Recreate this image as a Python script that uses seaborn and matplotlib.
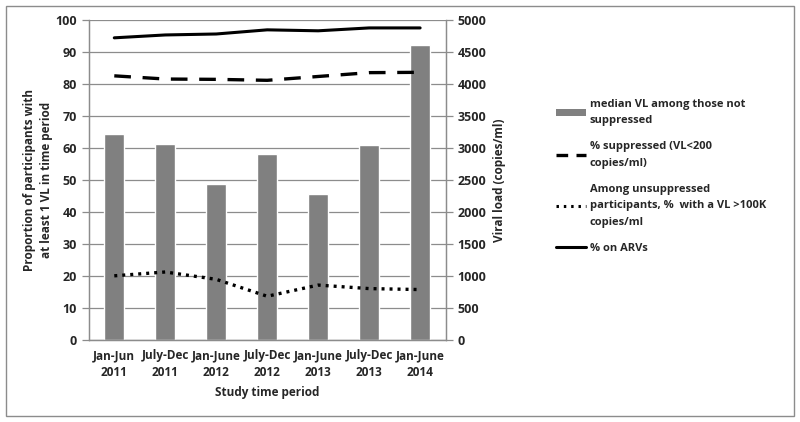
import numpy as np
import pandas as pd
import matplotlib
matplotlib.use("Agg")
import matplotlib.pyplot as plt
from matplotlib.patches import Rectangle, Patch
from matplotlib.lines import Line2D
import seaborn as sns

periods = ["Jan-Jun\n2011", "July-Dec\n2011", "Jan-June\n2012", "July-Dec\n2012",
           "Jan-June\n2013", "July-Dec\n2013", "Jan-June\n2014"]
median_vl = [3225, 3070, 2430, 2900, 2275, 3055, 4610]
pct_suppressed = [82.6, 81.6, 81.5, 81.2, 82.4, 83.6, 83.7]
pct_over_100k = [20.0, 21.2, 18.9, 13.6, 17.1, 16.0, 15.7]
pct_on_arv = [94.5, 95.4, 95.7, 97.0, 96.7, 97.6, 97.6]

bar_label = "median VL among those not\nsuppressed"
supp_label = "% suppressed (VL<200\ncopies/ml)"
over_label = "Among unsuppressed\nparticipants, %  with a VL >100K\ncopies/ml"
arv_label = "% on ARVs"

sns.set_theme(style="white")
plt.rcParams["font.family"] = ["Open Sans", "DejaVu Sans"]
plt.rcParams["font.weight"] = "bold"

df = pd.DataFrame({"period": periods, "vl": median_vl,
                   "supp": pct_suppressed, "over": pct_over_100k, "arv": pct_on_arv})
df["pos"] = np.arange(len(df))

fig = plt.figure(figsize=(8, 4.22), dpi=100)
ax1 = fig.add_axes([0.111, 0.195, 0.446, 0.757])
ax2 = ax1.twinx()

# Bars on right axis
sns.barplot(data=df, x="pos", y="vl", ax=ax2, color="#808080", width=0.39,
            saturation=1, native_scale=True, zorder=2)
ax2.set_ylim(0, 5000)
ax2.set_yticks(np.arange(0, 5001, 500))
ax2.yaxis.grid(True, color="#8c8c8c", linewidth=0.9, zorder=0)
ax2.set_axisbelow(True)
ax2.set_ylabel("Viral load (copies/ml)", fontsize=8.5, fontweight="bold", labelpad=5)

# Lines on left axis, in front
ax1.set_zorder(ax2.get_zorder() + 1)
ax1.patch.set_visible(False)
sns.lineplot(data=df, x="pos", y="arv", ax=ax1, color="black", linewidth=2.2)
sns.lineplot(data=df, x="pos", y="supp", ax=ax1, color="black", linewidth=2.4,
             dashes=False, linestyle=(0, (5, 3.5)))
sns.lineplot(data=df, x="pos", y="over", ax=ax1, color="black", linewidth=2.4,
             linestyle=(0, (0.9, 1.5)))
ax1.set_ylim(0, 100)
ax1.set_yticks(np.arange(0, 101, 10))
ax1.set_xlim(-0.5, len(df) - 0.5)
ax1.set_xticks(df["pos"])
ax1.set_xticklabels(periods, fontsize=8.5, fontweight="bold", linespacing=1.35)
ax1.set_xticks(np.arange(-0.5, len(df), 1), minor=True)
ax1.tick_params(axis="x", which="major", length=0, pad=7)
ax1.tick_params(axis="x", which="minor", length=5, color="#8c8c8c", width=0.9, direction="out")
ax1.set_xlabel("Study time period", fontsize=8.5, fontweight="bold", labelpad=5)
ax1.set_ylabel("Proportion of participants with\nat least 1 VL in time period",
               fontsize=8.5, fontweight="bold", labelpad=2, linespacing=1.35)
ax1.tick_params(axis="y", which="major", length=5, color="#8c8c8c", width=0.9,
                direction="out", labelsize=9)
ax2.tick_params(axis="y", which="major", length=5, color="#8c8c8c", width=0.9,
                direction="out", labelsize=9)
for lab in ax1.get_yticklabels() + ax2.get_yticklabels():
    lab.set_fontweight("bold")
ax2.set_xlim(-0.5, len(df) - 0.5)
ax2.set_xlabel("")
ax2.tick_params(axis="x", which="both", length=0, labelbottom=False)

for ax in (ax1, ax2):
    ax.spines["top"].set_visible(False)
    for s in ["left", "right", "bottom"]:
        ax.spines[s].set_color("#8c8c8c")
        ax.spines[s].set_linewidth(0.9)

handles = [Patch(facecolor="#808080", edgecolor="none"),
           Line2D([], [], color="black", linewidth=2.4, linestyle=(0, (3.5, 2.5))),
           Line2D([], [], color="black", linewidth=2.2, linestyle=(0, (0.8, 1.6))),
           Line2D([], [], color="black", linewidth=2.2)]
labels = [bar_label, supp_label, over_label, arv_label]
leg = fig.legend(handles, labels, loc="upper left", bbox_to_anchor=(0.683, 0.79),
                 frameon=False, handlelength=2.7, handletextpad=0.3,
                 labelspacing=1.35, prop={"weight": "bold", "size": 8})
for t in leg.get_texts():
    t.set_linespacing(1.7)

fig.patches.append(Rectangle((6 / 800, 6 / 422), 788 / 800, 410 / 422,
                             transform=fig.transFigure, fill=False,
                             edgecolor="#8c8c8c", linewidth=1.0))

fig.savefig("out.png", dpi=100)
